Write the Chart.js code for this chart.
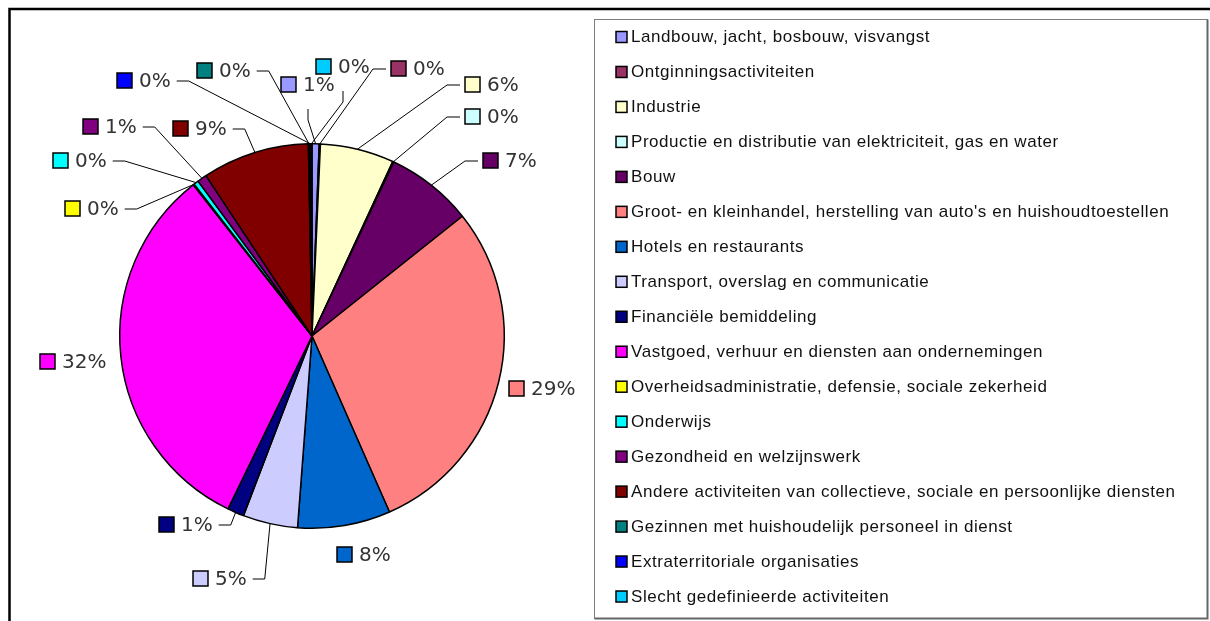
<!DOCTYPE html>
<html>
<head>
<meta charset="utf-8">
<script src="https://cdn.jsdelivr.net/npm/chart.js@4.4.1/dist/chart.umd.min.js"></script>
<style>
  html, body { margin: 0; padding: 0; background: #fff; }
  #wrap { position: relative; width: 1210px; height: 621px; }
</style>
</head>
<body>
<div id="wrap"><canvas id="sectorChart" width="1210" height="621"></canvas></div>
<script>
// Sectors (Dutch NACE groups) and their share
const categories = [
  'Landbouw, jacht, bosbouw, visvangst',
  'Ontginningsactiviteiten',
  'Industrie',
  'Productie en distributie van elektriciteit, gas en water',
  'Bouw',
  "Groot- en kleinhandel, herstelling van auto's en huishoudtoestellen",
  'Hotels en restaurants',
  'Transport, overslag en communicatie',
  'Financiële bemiddeling',
  'Vastgoed, verhuur en diensten aan ondernemingen',
  'Overheidsadministratie, defensie, sociale zekerheid',
  'Onderwijs',
  'Gezondheid en welzijnswerk',
  'Andere activiteiten van collectieve, sociale en persoonlijke diensten',
  'Gezinnen met huishoudelijk personeel in dienst',
  'Extraterritoriale organisaties',
  'Slecht gedefinieerde activiteiten'
];
const shares = [0.6, 0.1, 6.2, 0.1, 7.3, 29.1, 7.8, 4.6, 1.4, 32.2, 0.1, 0.4, 0.8, 9.0, 0.1, 0.1, 0.1];

// classic office palette
const sliceColors = [
  '#9999FF', '#993366', '#FFFFCC', '#CCFFFF', '#660066', '#FF8080',
  '#0066CC', '#CCCCFF', '#000080', '#FF00FF', '#FFFF00', '#00FFFF',
  '#800080', '#800000', '#008080', '#0000FF', '#00CCFF'
];

// where each percentage label sits, relative to the pie centre,
// and from which side its leader line leaves (L = line on the right of the text,
// R = line on the left of the square, B = line below, '' = no line)
const labelLayout = [
  [-31, -251, 'B'], [79, -267, 'R'], [153, -251, 'R'], [153, -219, 'R'],
  [171, -175, 'R'], [197, 53, ''], [25, 219, ''], [-119, 243, 'L'],
  [-153, 189, 'L'], [-272, 26, ''], [-247, -127, 'L'], [-259, -175, 'L'],
  [-229, -209, 'L'], [-139, -207, 'L'], [-115, -265, 'L'], [-195, -255, 'L'],
  [4, -269, 'B']
];

const labelFont = '20px "DejaVu Sans", Verdana, sans-serif';
const legendFont = '17px "Liberation Sans", Arial, sans-serif';

// frame, legend box and outside labels
const decorations = {
  id: 'decorations',
  beforeDraw(chart) {
    const ctx = chart.ctx;
    ctx.save();
    ctx.fillStyle = '#fff';
    ctx.fillRect(0, 0, chart.width, chart.height);
    // outer frame (only top and left are inside the picture)
    ctx.strokeStyle = '#000';
    ctx.lineWidth = 2.5;
    ctx.beginPath();
    ctx.moveTo(9.5, chart.height);
    ctx.lineTo(9.5, 9);
    ctx.lineTo(chart.width, 9);
    ctx.stroke();
    ctx.restore();
  },
  afterDatasetsDraw(chart) {
    const ctx = chart.ctx;
    const arcs = chart.getDatasetMeta(0).data;
    const total = shares.reduce((a, b) => a + b, 0);

    ctx.save();
    // percentage labels + leader lines
    ctx.font = labelFont;
    ctx.textBaseline = 'middle';
    arcs.forEach((arc, i) => {
      const p = arc.getProps(['x', 'y', 'startAngle', 'endAngle', 'outerRadius'], true);
      const [dx, dy, side] = labelLayout[i];
      const sx = p.x + dx, cy = p.y + dy;
      const txt = Math.round(shares[i] / total * 100) + '%';
      const tx = sx + 22;
      const tw = ctx.measureText(txt).width;

      ctx.fillStyle = sliceColors[i];
      ctx.fillRect(sx, cy - 8, 15, 15);
      ctx.strokeStyle = '#000';
      ctx.lineWidth = 1.5;
      ctx.strokeRect(sx, cy - 8, 15, 15);
      ctx.fillStyle = '#333';
      ctx.fillText(txt, tx, cy + 1);

      if (side) {
        const mid = (p.startAngle + p.endAngle) / 2;
        const ax = p.x + Math.cos(mid) * p.outerRadius;
        const ay = p.y + Math.sin(mid) * p.outerRadius;
        let x0, y0, x1, y1;
        if (side === 'L') { x0 = tx + tw + 6; y0 = cy; x1 = x0 + 12; y1 = cy; }
        else if (side === 'R') { x0 = sx - 5; y0 = cy; x1 = x0 - 13; y1 = cy; }
        else { x0 = sx + 27; y0 = cy + 24; x1 = x0; y1 = cy + 35; }
        ctx.strokeStyle = '#000';
        ctx.lineWidth = 1;
        ctx.beginPath();
        ctx.moveTo(x0, y0);
        ctx.lineTo(x1, y1);
        ctx.lineTo(ax, ay);
        ctx.stroke();
      }
    });

    // legend box
    const bx = 594.5, by = 19.5, bw = 613, bh = 599;
    ctx.strokeStyle = '#808080';
    ctx.lineWidth = 1;
    ctx.strokeRect(bx, by, bw, bh);
    ctx.strokeStyle = '#666';
    ctx.lineWidth = 2;
    ctx.beginPath();
    ctx.moveTo(bx + bw, by);
    ctx.lineTo(bx + bw, by + bh);
    ctx.lineTo(bx, by + bh);
    ctx.stroke();

    ctx.font = legendFont;
    ctx.textBaseline = 'middle';
    if ('letterSpacing' in ctx) ctx.letterSpacing = '0.55px';
    categories.forEach((name, i) => {
      const y = 37.5 + i * 34.97;
      ctx.fillStyle = sliceColors[i];
      ctx.fillRect(616, y - 6, 11, 11);
      ctx.strokeStyle = '#000';
      ctx.lineWidth = 1.5;
      ctx.strokeRect(616, y - 6, 11, 11);
      ctx.fillStyle = '#111';
      ctx.fillText(name, 631, y);
    });
    ctx.restore();
  }
};

const ctx = document.getElementById('sectorChart').getContext('2d');
new Chart(ctx, {
  type: 'pie',
  data: {
    labels: categories,
    datasets: [{
      data: shares,
      backgroundColor: sliceColors,
      borderColor: '#000',
      borderWidth: 1.5
    }]
  },
  options: {
    responsive: false,
    animation: false,
    layout: { padding: { left: 119, top: 143, right: 705, bottom: 92 } },
    plugins: {
      legend: { display: false },
      tooltip: { enabled: false }
    }
  },
  plugins: [decorations]
});
</script>
</body>
</html>
